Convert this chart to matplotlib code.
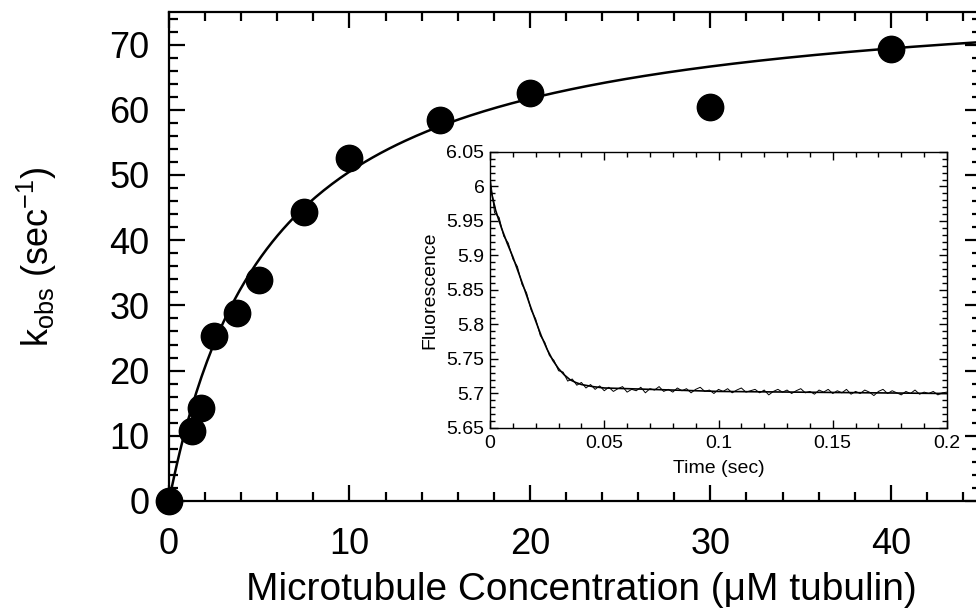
import numpy as np
import matplotlib
matplotlib.use('Agg')
import matplotlib.pyplot as plt
from matplotlib.ticker import MultipleLocator, FuncFormatter

plt.rcParams['font.family'] = ['Liberation Sans', 'DejaVu Sans']

# main panel: observed rate vs microtubule concentration
mt_conc = [0, 1.25, 1.8, 2.5, 3.75, 5, 7.5, 10, 15, 20, 30, 40]
k_obs = [0, 10.8, 14.3, 25.3, 28.9, 33.9, 44.3, 52.6, 58.5, 62.5, 60.5, 69.3]

# hyperbolic fit
kmax = 79.3
k_half = 5.7

# inset: stopped-flow fluorescence trace (t every 2 ms)
trace_t = np.linspace(0, 0.2, 101)
trace_f = [6.015, 5.962, 5.955, 5.928, 5.918, 5.895, 5.884, 5.858, 5.846, 5.821,
           5.808, 5.784, 5.774, 5.755, 5.748, 5.733, 5.731, 5.718, 5.721, 5.712,
           5.716, 5.708, 5.713, 5.706, 5.711, 5.704,
           5.709, 5.703, 5.707, 5.710, 5.702, 5.706, 5.704, 5.709, 5.701, 5.707,
           5.705, 5.710, 5.703, 5.706, 5.702, 5.708, 5.704, 5.707, 5.701, 5.706,
           5.709, 5.703, 5.705, 5.700, 5.706,
           5.703, 5.707, 5.701, 5.705, 5.708, 5.702, 5.704, 5.706, 5.701, 5.705,
           5.698, 5.703, 5.706, 5.702, 5.705, 5.700, 5.704, 5.707, 5.701, 5.703,
           5.699, 5.705, 5.702, 5.706, 5.700,
           5.704, 5.701, 5.706, 5.699, 5.703, 5.700, 5.705, 5.702, 5.697, 5.703,
           5.706, 5.700, 5.704, 5.701, 5.698, 5.703, 5.700, 5.705, 5.699, 5.702,
           5.700, 5.703, 5.698, 5.701, 5.702]

fit_t = [0, 0.0025, 0.005, 0.0075, 0.01, 0.0125, 0.015, 0.0175, 0.02, 0.0225,
         0.025, 0.0275, 0.03, 0.0325, 0.035, 0.0375, 0.04, 0.045, 0.05, 0.1, 0.2]
fit_f = [6.0, 5.965, 5.94, 5.918, 5.898, 5.875, 5.852, 5.828, 5.805, 5.783,
         5.764, 5.748, 5.736, 5.727, 5.72, 5.716, 5.713, 5.71, 5.708, 5.703, 5.700]

fig = plt.figure(figsize=(9.76, 6.12), dpi=100)
ax = fig.add_axes([169/976, 111/612, 812/976, 489/612])

xs = np.linspace(0, 45, 300)
ax.plot(xs, kmax*xs/(k_half + xs), color='black', lw=1.8, zorder=3)
ax.plot(mt_conc, k_obs, 'o', color='black', ms=19, clip_on=False, zorder=5)

ax.set_xlim(0, 45)
ax.set_ylim(0, 75)
ax.xaxis.set_major_locator(MultipleLocator(10))
ax.xaxis.set_minor_locator(MultipleLocator(2))
ax.yaxis.set_major_locator(MultipleLocator(10))
ax.yaxis.set_minor_locator(MultipleLocator(2))
ax.tick_params(which='both', direction='in', top=True, right=True, width=1.6)
ax.tick_params(which='major', length=11.5, labelsize=26)
ax.tick_params(axis='x', which='major', pad=19)
ax.tick_params(axis='y', which='major', pad=14)
ax.tick_params(which='minor', length=6.5)
for s in ax.spines.values():
    s.set_linewidth(1.6)
ax.set_xlabel('Microtubule Concentration (\u03bcM tubulin)', fontsize=28)
ax.xaxis.set_label_coords(0.508, -0.145)
ax.set_ylabel(r'k$_\mathregular{obs}$ (sec$^\mathregular{-1}$)', fontsize=26, labelpad=36)

# inset
ins = fig.add_axes([490/976, 184/612, 457/976, 276/612])
ins.plot(trace_t, trace_f, color='black', lw=0.7)
ins.plot(fit_t, fit_f, color='black', lw=1.2)
ins.set_xlim(0, 0.2)
ins.set_ylim(5.65, 6.05)
ins.xaxis.set_major_locator(MultipleLocator(0.05))
ins.xaxis.set_minor_locator(MultipleLocator(0.01))
ins.yaxis.set_major_locator(MultipleLocator(0.05))
ins.yaxis.set_minor_locator(MultipleLocator(0.01))
fmt = FuncFormatter(lambda v, p: '%g' % round(v, 3))
ins.xaxis.set_major_formatter(fmt)
ins.yaxis.set_major_formatter(fmt)
ins.tick_params(which='both', direction='in', top=True, right=True, width=1.0, labelsize=14)
ins.tick_params(axis='x', which='major', pad=5)
ins.tick_params(axis='y', which='major', pad=4)
ins.tick_params(which='major', length=6)
ins.tick_params(which='minor', length=3.5)
for s in ins.spines.values():
    s.set_linewidth(1.0)
ins.set_xlabel('Time (sec)', fontsize=14, labelpad=6)
ins.set_ylabel('Fluorescence', fontsize=14, labelpad=6)

fig.savefig('out.png', dpi=100)
